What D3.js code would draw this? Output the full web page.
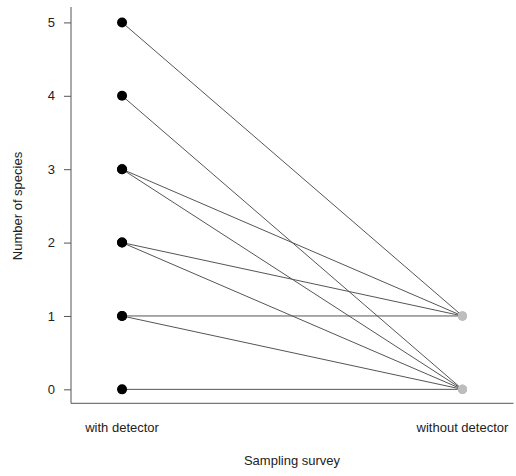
<!DOCTYPE html>
<html>
<head>
<meta charset="utf-8">
<script src="https://cdn.jsdelivr.net/npm/d3@7/dist/d3.min.js"></script>
<style>
  body { margin: 0; background: #fff; }
  text { font-family: "Liberation Sans", Arial, sans-serif; fill: #222; }
</style>
</head>
<body>
<svg width="516" height="476"></svg>
<script>
// groups on the x axis
var surveys = ["with detector", "without detector"];
// species counts per pair: with detector -> without detector
var withDetector    = [5, 4, 3, 3, 2, 2, 1, 1, 0];
var withoutDetector = [1, 0, 1, 0, 1, 0, 1, 0, 0];
var yTicks = [0, 1, 2, 3, 4, 5];

var svg = d3.select("svg");

// schalen
var x = d3.scaleLinear().domain([0.85, 2.15]).range([71, 513.5]);
var y = d3.scaleLinear().domain([-0.19, 5.21]).range([403.3, 7]);

// assen (R-style, bty="l")
svg.append("g")
  .attr("transform", "translate(71,0)")
  .call(d3.axisLeft(y).tickValues(yTicks).tickSize(7).tickPadding(9).tickFormat(d3.format("d")))
  .call(function(g) {
    g.select(".domain").attr("d", "M0," + y.range()[1] + "V" + y.range()[0]);
    g.selectAll("line, path").attr("stroke", "#555");
    g.selectAll("text").attr("font-size", "13px").attr("fill", "#222")
      .style("font-family", "'Liberation Sans', Arial, sans-serif");
  });

svg.append("line")
  .attr("x1", 71).attr("x2", x.range()[1])
  .attr("y1", y.range()[0]).attr("y2", y.range()[0])
  .attr("stroke", "#555");

svg.selectAll(".grp")
  .data(surveys)
  .enter().append("text")
  .attr("class", "grp")
  .attr("x", function(d, i) { return x(i + 1); })
  .attr("y", 432)
  .attr("text-anchor", "middle")
  .attr("font-size", "13px")
  .text(function(d) { return d; });

svg.append("text")
  .attr("x", 292).attr("y", 465)
  .attr("text-anchor", "middle")
  .attr("font-size", "13px")
  .text("Sampling survey");

svg.append("text")
  .attr("transform", "translate(22,206) rotate(-90)")
  .attr("text-anchor", "middle")
  .attr("font-size", "13px")
  .text("Number of species");

// lijnen
var pairs = withDetector.map(function(d, i) { return { a: d, b: withoutDetector[i] }; });

svg.selectAll(".pair")
  .data(pairs)
  .enter().append("line")
  .attr("class", "pair")
  .attr("x1", x(1)).attr("x2", x(2))
  .attr("y1", function(d) { return y(d.a); })
  .attr("y2", function(d) { return y(d.b); })
  .attr("stroke", "#555")
  .attr("stroke-width", 1);

// punten
svg.selectAll(".pt-right")
  .data(pairs)
  .enter().append("circle")
  .attr("cx", x(2))
  .attr("cy", function(d) { return y(d.b); })
  .attr("r", 4.5)
  .attr("fill", "#bdbdbd");

svg.selectAll(".pt-left")
  .data(pairs)
  .enter().append("circle")
  .attr("cx", x(1))
  .attr("cy", function(d) { return y(d.a); })
  .attr("r", 5)
  .attr("fill", "#000");
</script>
</body>
</html>
